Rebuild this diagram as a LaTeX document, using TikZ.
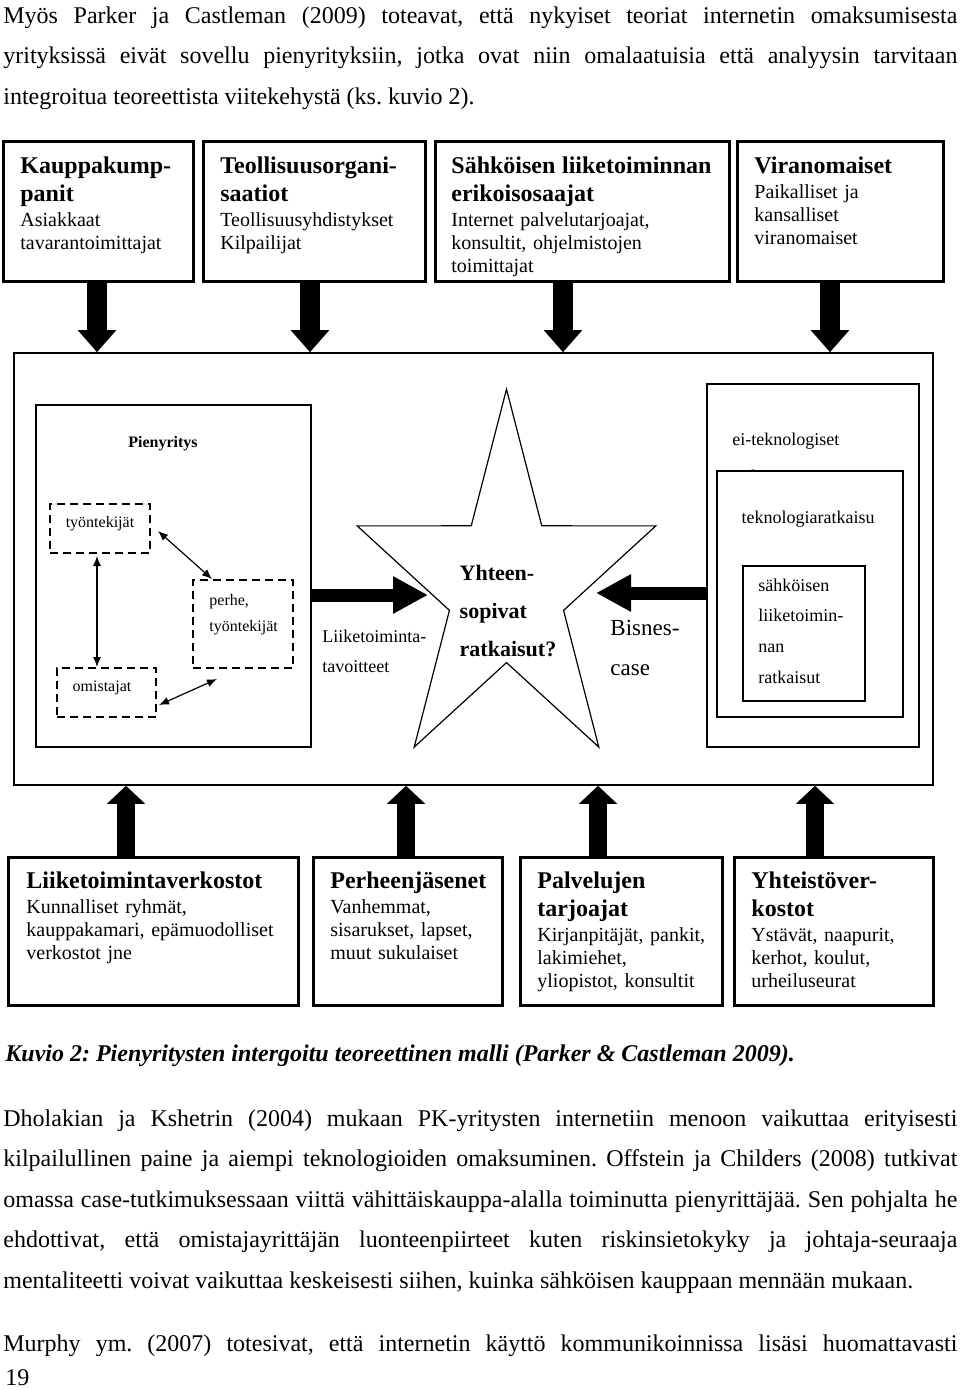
\documentclass[tikz,border=0pt]{standalone}
\usepackage{fontspec}
\setmainfont{Liberation Serif}
\usetikzlibrary{arrows.meta}
\setlength{\parindent}{0pt}
\frenchspacing
\newcommand{\boxhead}[1]{{\fontsize{12}{14}\selectfont\bfseries #1\par}\vspace{1pt}}

\tikzset{
  topbox/.style={draw, line width=1.5pt, inner sep=0pt, minimum width=#1, minimum height=70pt},
  botbox/.style={draw, line width=1.5pt, inner sep=0pt, minimum width=#1, minimum height=74pt},
  thinbox/.style={draw, line width=0.75pt, inner sep=0pt},
  persbox/.style={draw, line width=1pt, dash pattern=on 4pt off 2.5pt, inner sep=0pt, minimum width=50pt},
  boxtxt/.style={anchor=north west, inner sep=0pt, text width=#1, align=left, font=\fontsize{10}{11.5}\selectfont},
  tinytxt/.style={inner sep=0pt, font=\fontsize{8}{13}\selectfont},
  midtxt/.style={anchor=north west, inner sep=0pt, align=left, font=\fontsize{9}{15}\selectfont},
  para/.style={anchor=north west, inner sep=0pt, text width=477pt, align=justify, font=\fontsize{12}{20.3}\selectfont},
  rel/.style={{Latex[length=5pt,width=4pt]}-{Latex[length=5pt,width=4pt]}, line width=0.6pt},
  bigdown/.style={line width=10pt, -{Triangle[length=11pt,width=18.5pt]}},
  bigup/.style={line width=9pt, -{Triangle[length=9pt,width=18.5pt]}},
  bigside/.style={line width=6.5pt, -{Triangle[length=17.5pt,width=17.5pt]}}
}

\begin{document}
\begin{tikzpicture}[x=0.5pt, y=-0.5pt]
	\fill[white] (0,0) rectangle (960,1390);
	\useasboundingbox (0,0) rectangle (960,1390);

	% text above the figure
	\node[para] (intro) at (3,6) {Myös Parker ja Castleman (2009) toteavat, että nykyiset teoriat internetin omaksumisesta\linebreak
		yrityksissä eivät sovellu pienyrityksiin, jotka ovat niin omalaatuisia että analyysin tarvitaan\linebreak
		integroitua teoreettista viitekehystä (ks. kuvio 2).};

	% upper row
	\node[topbox=95pt] (kauppa) at (98,212) {};
	\node[topbox=111pt] (teoll) at (314,212) {};
	\node[topbox=147pt] (sahko) at (582,212) {};
	\node[topbox=103pt] (viran) at (840,212) {};

	\node[boxtxt=85pt] (kauppatxt) at (20,156)
		{\boxhead{Kauppakump-\\panit}Asiakkaat\\tavarantoimittajat};
	\node[boxtxt=100pt] (teolltxt) at (220,156)
		{\boxhead{Teollisuusorgani-\\saatiot}Teollisuusyhdistykset\\Kilpailijat};
	\node[boxtxt=140pt] (sahkotxt) at (451,156)
		{\boxhead{Sähköisen liiketoiminnan\\erikoisosaajat}Internet palvelutarjoajat,\\konsultit, ohjelmistojen\\toimittajat};
	\node[boxtxt=90pt] (virantxt) at (754,156)
		{\boxhead{Viranomaiset}Paikalliset ja\\kansalliset\\viranomaiset};

	% the firm and its surroundings
	\node[thinbox, minimum width=459.5pt, minimum height=216pt] (yritys) at (473.5,569) {};
	\node[thinbox, line width=0.7pt, minimum width=137.5pt, minimum height=171pt] (pien) at (173.5,576) {};
	\node[tinytxt, font=\fontsize{8}{13}\selectfont\bfseries] (pientxt) at (163,444) {Pienyritys};

	\node[persbox, minimum height=24.5pt] (tyont) at (100,528.5) {};
	\node[persbox, minimum height=44pt] (perhe) at (243,624) {};
	\node[persbox, minimum width=49.5pt, minimum height=24.5pt] (omist) at (106.5,692.5) {};
	\node[tinytxt] (tyonttxt) at (100,524) {työntekijät};
	\node[tinytxt, anchor=north west, align=left] (perhetxt) at (209,594) {perhe,\\työntekijät};
	\node[tinytxt] (omisttxt) at (102,688) {omistajat};

	\draw[rel] ([xshift=3.5pt,yshift=-1.25pt]tyont.east) -- ([xshift=-15.5pt]perhe.north);
	\draw[rel] ([xshift=-1.5pt,yshift=-1pt]tyont.south) -- ([xshift=-1.5pt]tyont.south |- omist.north);
	\draw[rel] ([xshift=1pt,yshift=-6.25pt]omist.east) -- ([xshift=-13pt,yshift=-5pt]perhe.south);

	% solutions
	\node[thinbox, minimum width=106pt, minimum height=181.5pt] (eitek) at (813,565.5) {};
	\node[midtxt, font=\fontsize{9}{18.5}\selectfont] (eitektxt) at (732,432.5) {ei-teknologiset\\ratkaisut};
	\node[thinbox, fill=white, minimum width=93pt, minimum height=123pt] (teknol) at (810,594) {};
	\node[tinytxt, font=\fontsize{9}{15}\selectfont] (teknoltxt) at (808,519) {teknologiaratkaisu};
	\node[thinbox, minimum width=61pt, minimum height=67.5pt] (sahkrat) at (804,633.5) {};
	\node[midtxt, font=\fontsize{9}{15.3}\selectfont] (sahkrattxt) at (758,578.5) {sähköisen\\liiketoimin-\\nan\\ratkaisut};

	% star
	\begin{scope}[shift={(506.5,587)}, yscale=1.26]
		\draw[line width=0.6pt] plot[samples at={0,...,9}] ({-90+36*\x}:{157-97*mod(\x,2)}) -- cycle;
	\end{scope}
	\node[inner sep=0pt, align=left, font=\fontsize{11}{19}\selectfont\bfseries] (sopivat) at (508,611.5)
		{Yhteen-\\sopivat\\ratkaisut?};
	\coordinate (starL) at (428,595);
	\coordinate (starR) at (596,593);

	\draw[bigside] (pien.east |- starL) -- (starL);
	\draw[bigside] (eitek.west |- starR) -- (starR);
	\node[midtxt] (tavoite) at (322,629.5) {Liiketoiminta-\\tavoitteet};
	\node[midtxt, font=\fontsize{11.5}{20}\selectfont] (bisnes) at (610,620) {Bisnes-\\case};

	% arrows from the upper row
	\draw[bigdown] ([xshift=-0.5pt]kauppa.south) -- ([xshift=-0.5pt]kauppa.south |- yritys.north);
	\draw[bigdown] ([xshift=-2pt]teoll.south) -- ([xshift=-2pt]teoll.south |- yritys.north);
	\draw[bigdown] ([xshift=-9.5pt]sahko.south) -- ([xshift=-9.5pt]sahko.south |- yritys.north);
	\draw[bigdown] ([xshift=-5pt]viran.south) -- ([xshift=-5pt]viran.south |- yritys.north);

	% lower row
	\node[botbox=145pt] (liike) at (153,931) {};
	\node[botbox=94.5pt] (perheen) at (407.5,931) {};
	\node[botbox=101pt] (palv) at (621,931) {};
	\node[botbox=99.5pt] (yhteis) at (833.5,931) {};

	\node[boxtxt=140pt] (liiketxt) at (26,871)
		{\boxhead{Liiketoimintaverkostot}Kunnalliset ryhmät,\\kauppakamari, epämuodolliset\\verkostot jne};
	\node[boxtxt=90pt] (perheentxt) at (330,871)
		{\boxhead{Perheenjäsenet}Vanhemmat,\\sisarukset, lapset,\\muut sukulaiset};
	\node[boxtxt=100pt] (palvtxt) at (537,871)
		{\boxhead{Palvelujen\\tarjoajat}Kirjanpitäjät, pankit,\\lakimiehet,\\yliopistot, konsultit};
	\node[boxtxt=95pt] (yhteistxt) at (751,871)
		{\boxhead{Yhteistöver-\\kostot}Ystävät, naapurit,\\kerhot, koulut,\\urheiluseurat};

	\draw[bigup] ([xshift=-13.5pt]liike.north) -- ([xshift=-13.5pt]liike.north |- yritys.south);
	\draw[bigup] ([xshift=-0.75pt]perheen.north) -- ([xshift=-0.75pt]perheen.north |- yritys.south);
	\draw[bigup] ([xshift=-11.5pt]palv.north) -- ([xshift=-11.5pt]palv.north |- yritys.south);
	\draw[bigup] ([xshift=-9.25pt]yhteis.north) -- ([xshift=-9.25pt]yhteis.north |- yritys.south);

	% caption and text below
	\node[anchor=north west, inner sep=0pt, font=\fontsize{12}{14}\selectfont\bfseries\itshape] (kuvio) at (5,1044)
		{Kuvio 2: Pienyritysten intergoitu teoreettinen malli (Parker \& Castleman 2009).};
	\node[para] (dholakia) at (3,1109) {Dholakian ja Kshetrin (2004) mukaan PK-yritysten internetiin menoon vaikuttaa erityisesti\linebreak
		kilpailullinen paine ja aiempi teknologioiden omaksuminen. Offstein ja Childers (2008) tutkivat\linebreak
		omassa case-tutkimuksessaan viittä vähittäiskauppa-alalla toiminutta pienyrittäjää. Sen pohjalta he\linebreak
		ehdottivat, että omistajayrittäjän luonteenpiirteet kuten riskinsietokyky ja johtaja-seuraaja\linebreak
		mentaliteetti voivat vaikuttaa keskeisesti siihen, kuinka sähköisen kauppaan mennään mukaan.};
	\node[anchor=north west, inner sep=0pt, font=\fontsize{12}{20.3}\selectfont] (murphy) at (3,1334)
		{\makebox[477pt][s]{Murphy ym. (2007) totesivat, että internetin käyttö kommunikoinnissa lisäsi huomattavasti}};
	\node[anchor=north west, inner sep=0pt, font=\fontsize{12}{14}\selectfont] (sivu) at (5,1369) {19};
\end{tikzpicture}
\end{document}
